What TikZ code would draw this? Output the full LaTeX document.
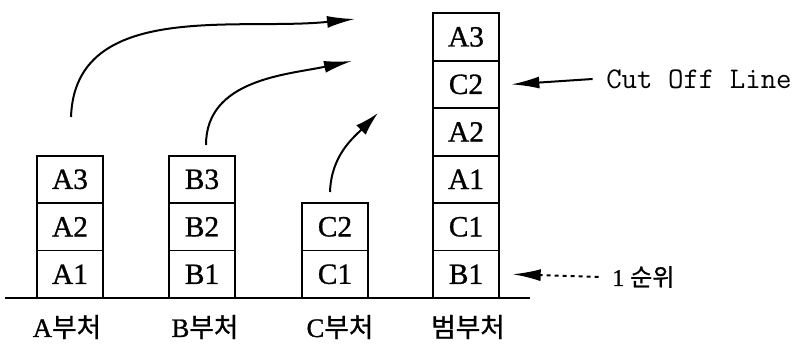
\documentclass[tikz,border=0pt]{standalone}
\usepackage{fontspec}
\setmainfont{Liberation Serif}
\newfontfamily\kr{Noto Sans CJK KR}[FakeBold=1]
\usetikzlibrary{positioning,arrows.meta}

\tikzset{
  blk/.style={draw, line width=1.4pt, minimum width=50pt, minimum height=35.6pt,
    inner sep=0pt, outer sep=0pt, font=\fontsize{22}{22}\selectfont\addfontfeature{FakeBold=1}},
  lbl/.style={font=\fontsize{20}{20}\selectfont},
  bigarrow/.style={line width=1.5pt, -{Latex[length=21pt,width=9pt]}}
}

\begin{document}
\begin{tikzpicture}[x=0.75pt, y=0.75pt]
                \useasboundingbox (0,0) rectangle (801,345);

                % Ground
                \draw[line width=1.5pt] (5,47) -- (530,47);

                % Stacks
                \node[blk, anchor=south] (a1) at (70,47) {A1};
                \node[blk, above=0pt of a1] (a2) {A2};
                \node[blk, above=0pt of a2] (a3) {A3};

                \node[blk, anchor=south] (b1) at (202,47) {B1};
                \node[blk, above=0pt of b1] (b2) {B2};
                \node[blk, above=0pt of b2] (b3) {B3};

                \node[blk, anchor=south] (c1) at (335,47) {C1};
                \node[blk, above=0pt of c1] (c2) {C2};

                \node[blk, anchor=south] (r1) at (466,47) {B1};
                \node[blk, above=0pt of r1] (r2) {C1};
                \node[blk, above=0pt of r2] (r3) {A1};
                \node[blk, above=0pt of r3] (r4) {A2};
                \node[blk, above=0pt of r4] (r5) {C2};
                \node[blk, above=0pt of r5] (r6) {A3};

                % Labels
                \node[lbl] (la) at (67,18) {\addfontfeature{FakeBold=1}A{\kr 부처}};
                \node[lbl] (lb) at (205,18) {\addfontfeature{FakeBold=1}B{\kr 부처}};
                \node[lbl] (lc) at (340,18) {\addfontfeature{FakeBold=1}C{\kr 부처}};
                \node[lbl] (lr) at (468,18) {\kr 범부처};

                % Moves
                \coordinate (aS) at (71,228);
                \coordinate (aE) at (355,326);
                \coordinate (bS) at (206,200);
                \coordinate (bE) at (352,284);
                \coordinate (cS) at (330,153);
                \coordinate (cE) at (378,232);
                \draw[bigarrow] (aS) to[out=88, in=186] (aE);
                \draw[bigarrow] (bS) to[out=90, in=192] (bE);
                \draw[bigarrow, -{Latex[length=18pt,width=10pt]}] (cS) to[out=88, in=225] (cE);

                % Cut off and rank
                \node[anchor=west, inner sep=0pt, font=\fontsize{22.5}{22.5}\ttfamily\addfontfeature{FakeBold=1.5}] (cut) at (606,266) {Cut Off Line};
                \node[anchor=west, inner sep=0pt, font=\fontsize{18}{18}\selectfont] (rank) at (612,68) {\addfontfeature{FakeBold=1}1 {\kr 순위}};
                \draw[bigarrow] ([xshift=-10pt]cut.west) -- ([xshift=9pt]r5.east);
                \draw[bigarrow, dashed] ([xshift=-10pt]rank.west) -- ([xshift=10pt]r1.east);
\end{tikzpicture}
\end{document}
